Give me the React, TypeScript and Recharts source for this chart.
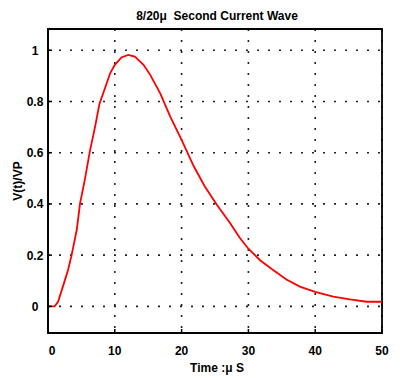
import React from 'react';
import { LineChart, Line, XAxis, YAxis, CartesianGrid, ReferenceArea } from 'recharts';

const times = [0, 1.0, 1.5, 2.3, 3.0, 3.5, 4.3, 4.8, 5.5, 6.3, 7.0, 7.7, 8.5, 9.3, 10.0, 11.0, 12.0, 13.0, 14.3, 15.3, 16.8, 18.3, 20.0, 21.8, 23.5, 25.3, 27.3, 28.7, 30.0, 31.7, 33.7, 35.7, 37.7, 40.0, 42.7, 45.2, 47.7, 50];
const values = [0, 0, 0.018, 0.083, 0.142, 0.196, 0.298, 0.402, 0.493, 0.61, 0.695, 0.79, 0.85, 0.91, 0.943, 0.972, 0.982, 0.975, 0.943, 0.904, 0.832, 0.741, 0.65, 0.548, 0.467, 0.396, 0.324, 0.268, 0.225, 0.181, 0.142, 0.105, 0.077, 0.057, 0.038, 0.027, 0.018, 0.018];
const xTicks = [0, 10, 20, 30, 40, 50];
const yTicks = [0, 0.2, 0.4, 0.6, 0.8, 1];
const yTickLabels = ['0', '0.2', '0.4', '0.6', '0.8', '1'];
const xDomain: [number, number] = [0, 50];
const yDomain: [number, number] = [-0.104, 1.083];
const title = '8/20\u03bc  Second Current Wave';
const xLabel = 'Time :\u03bc S';
const yLabel = 'V(t)/VP';

const data = times.map((t, i) => ({ t, v: values[i] }));

const FONT = '"Liberation Sans", Arial, Helvetica, sans-serif';
const FRAME = '#000';

const BottomTick = (props: any) => {
  const { x, y, payload } = props;
  const dx = payload.value === 0 ? 4 : 0;
  return (
    <g>
      <line x1={x} x2={x} y1={y} y2={y - 4} stroke={FRAME} strokeWidth={1.5} />
      <text x={x + dx} y={y + 22} textAnchor="middle" fontFamily={FONT} fontWeight="bold" fontSize={12} fill="#000">
        {payload.value}
      </text>
    </g>
  );
};

const LeftTick = (props: any) => {
  const { x, y, payload } = props;
  const idx = yTicks.indexOf(payload.value);
  const lbl = idx >= 0 ? yTickLabels[idx] : String(payload.value);
  return (
    <g>
      <line x1={x} x2={x + 4} y1={y} y2={y} stroke={FRAME} strokeWidth={1.5} />
      <text x={x - 13} y={y + 4.5} textAnchor="middle" fontFamily={FONT} fontWeight="bold" fontSize={12} fill="#000">
        {lbl}
      </text>
    </g>
  );
};

const TopTick = (props: any) => {
  const { x, y } = props;
  return <line x1={x} x2={x} y1={y} y2={y + 4} stroke={FRAME} strokeWidth={1.5} />;
};

const RightTick = (props: any) => {
  const { x, y } = props;
  return <line x1={x} x2={x - 4} y1={y} y2={y} stroke={FRAME} strokeWidth={1.5} />;
};

export default function App() {
  return (
    <div style={{ position: 'absolute', left: 0, top: 0, width: 400, height: 378, background: '#fff' }}>
      <LineChart width={400} height={378} data={data} margin={{ top: 29, right: 18, left: 0, bottom: 0 }}>
        <CartesianGrid stroke="#222" strokeWidth={1.6} strokeDasharray="2 9" vertical horizontal />
        <XAxis
          dataKey="t"
          type="number"
          domain={xDomain}
          ticks={xTicks}
          height={45}
          tickSize={0}
          tickMargin={0}
          tickLine={false}
          axisLine={{ stroke: FRAME, strokeWidth: 1.5 }}
          tick={<BottomTick />}
          allowDataOverflow
        />
        <XAxis
          xAxisId="top"
          orientation="top"
          dataKey="t"
          type="number"
          domain={xDomain}
          ticks={xTicks}
          height={0}
          tickSize={0}
          tickMargin={0}
          tickLine={false}
          axisLine={{ stroke: FRAME, strokeWidth: 1.5 }}
          tick={<TopTick />}
          allowDataOverflow
        />
        <YAxis
          type="number"
          domain={yDomain}
          ticks={yTicks}
          width={48}
          tickSize={0}
          tickMargin={0}
          tickLine={false}
          axisLine={{ stroke: FRAME, strokeWidth: 1.5 }}
          tick={<LeftTick />}
          allowDataOverflow
        />
        <YAxis
          yAxisId="right"
          orientation="right"
          type="number"
          domain={yDomain}
          ticks={yTicks}
          width={0}
          tickSize={0}
          tickMargin={0}
          tickLine={false}
          axisLine={{ stroke: FRAME, strokeWidth: 1.5 }}
          tick={<RightTick />}
          allowDataOverflow
        />
        <ReferenceArea
          x1={xDomain[0]}
          x2={xDomain[1]}
          y1={yDomain[0]}
          y2={yDomain[1]}
          fill="none"
          fillOpacity={0}
          stroke={FRAME}
          strokeWidth={1.8}
          ifOverflow="visible"
        />
        <Line
          type="linear"
          dataKey="v"
          stroke="#ff0000"
          strokeWidth={1.8}
          dot={false}
          isAnimationActive={false}
        />
      </LineChart>
      <div style={{ position: 'absolute', left: 0, width: 434, top: 8, textAlign: 'center', fontFamily: FONT, fontWeight: 'bold', fontSize: 12, lineHeight: '16px', whiteSpace: 'pre', color: '#000' }}>
        {title}
      </div>
      <div style={{ position: 'absolute', left: 0, width: 434, top: 360, textAlign: 'center', fontFamily: FONT, fontWeight: 'bold', fontSize: 12, lineHeight: '16px', whiteSpace: 'pre', color: '#000' }}>
        {xLabel}
      </div>
      <div style={{ position: 'absolute', left: 18, top: 181, width: 0, height: 0 }}>
        <div style={{ position: 'absolute', left: -50, top: -8, width: 100, textAlign: 'center', transform: 'rotate(-90deg)', fontFamily: FONT, fontWeight: 'bold', fontSize: 12, lineHeight: '16px', whiteSpace: 'pre', color: '#000' }}>
          {yLabel}
        </div>
      </div>
    </div>
  );
}
